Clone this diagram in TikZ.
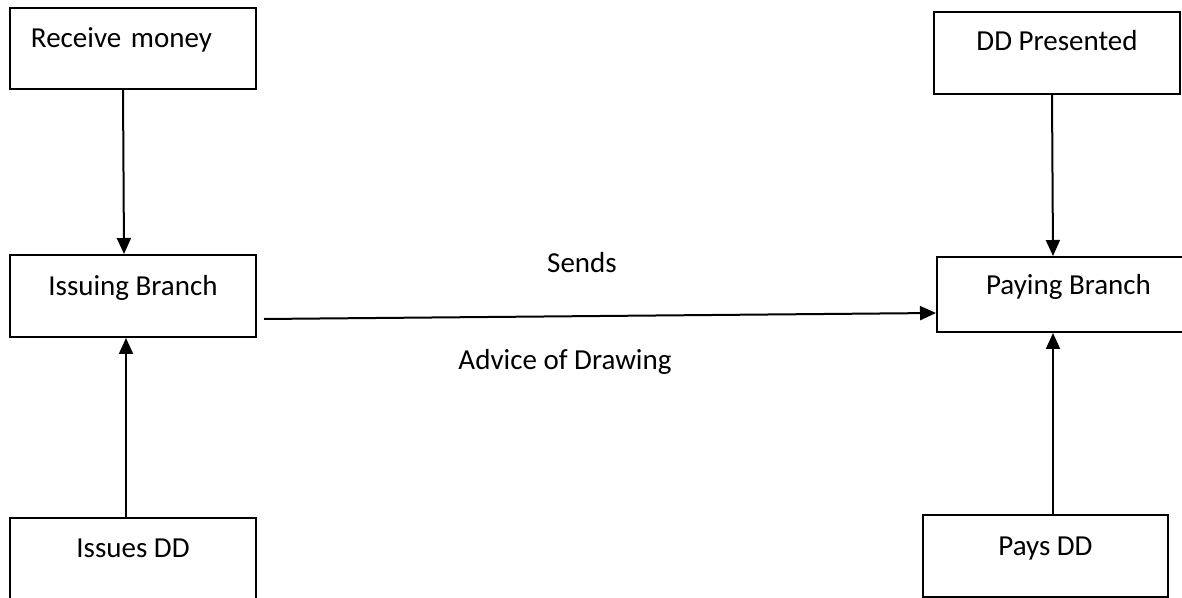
\documentclass[tikz,border=0pt]{standalone}
\usepackage{fontspec}
\setmainfont{Carlito}
\usetikzlibrary{arrows.meta}
\begin{document}
\begin{tikzpicture}[x=0.5pt,y=-0.5pt,
  box/.style={draw=black,line width=1pt,rectangle,inner sep=0pt,align=center,
    font=\fontsize{14.5}{17}\selectfont},
  lbl/.style={anchor=base,inner sep=0pt,font=\fontsize{14.5}{17}\selectfont},
  arr/.style={line width=1pt,-{Triangle[length=8pt,width=7pt]}}]
\clip (0,0) rectangle (1182,598);
\useasboundingbox (0,0) rectangle (1182,598);
% left column
\node[box,minimum width=123pt,text width=102pt,align=left,text height=20pt,text depth=20.5pt] (rm) at (133,48.5) {Receive money};
\node[box,minimum width=123pt,text height=20.5pt,text depth=20.5pt] (ib) at (133,296) {Issuing Branch};
\node[box,minimum width=123pt,text height=19.5pt,text depth=26.5pt] (id) at (133,564) {Issues DD};
% right column
\node[box,minimum width=123pt,text height=19.5pt,text depth=21.5pt] (dp) at (1057,53) {DD Presented};
\node[box,minimum width=131.5pt,text height=19pt,text depth=18.5pt] (pb) at (1068.5,294.5) {Paying Branch};
\node[box,minimum width=122.5pt,text height=20pt,text depth=21pt] (pd) at (1045.5,556) {Pays DD};
% connectors
\draw[arr] (rm.south -| 123,0) -- (ib.north -| 124,0);
\draw[arr] (id.north -| 126,0) -- (ib.south -| 126,0);
\draw[arr] (dp.south -| 1052,0) -- (pb.north -| 1053,0);
\draw[arr] (pd.north -| 1053,0) -- (pb.south -| 1053,0);
\draw[arr] (ib.east |- 0,319) ++(7,0) coordinate (hs) (hs) -- (pb.west |- 0,313);
% labels
\node[lbl] (sends) at (582,273) {Sends};
\node[lbl] (advice) at (565,370) {Advice of Drawing};
\end{tikzpicture}
\end{document}
